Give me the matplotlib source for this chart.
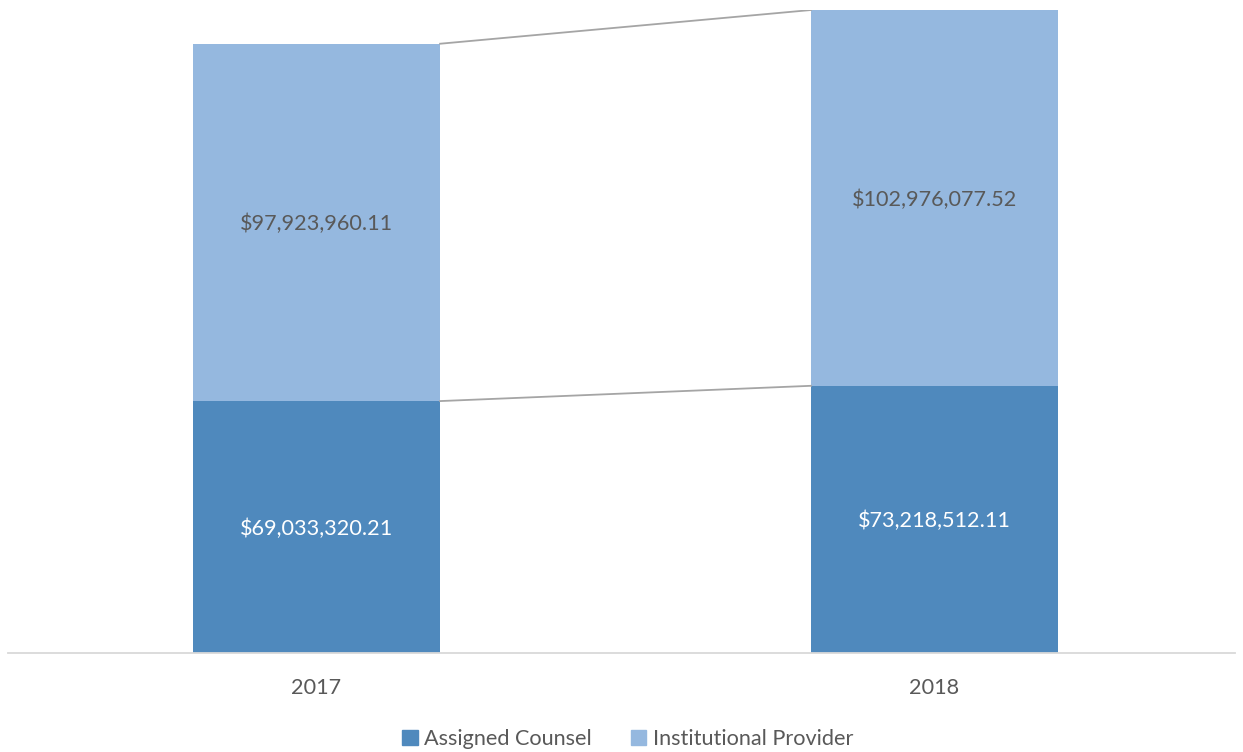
import matplotlib.pyplot as plt
from matplotlib.patches import Patch

years = ["2017", "2018"]
assigned = [69033320.21, 73218512.11]
institutional = [97923960.11, 102976077.52]

dark = "#4F89BD"
light = "#95B8DF"
txt = "#595959"

plt.rcParams["font.family"] = ["Lato", "DejaVu Sans"]

fig = plt.figure(figsize=(12.43, 7.52), dpi=100)
ax = fig.add_axes([8 / 1243, 1 - 653 / 752, 1227 / 1243, 643 / 752])

x = list(range(len(years)))
w = 0.4
ax.bar(x, assigned, width=w, color=dark)
ax.bar(x, institutional, width=w, bottom=assigned, color=light)

# series lines between the bars
tops = [a + b for a, b in zip(assigned, institutional)]
ax.plot([x[0] + w / 2, x[1] - w / 2], assigned, color="#A5A5A5", lw=1.3)
ax.plot([x[0] + w / 2, x[1] - w / 2], tops, color="#A5A5A5", lw=1.3)

for i in x:
    ax.text(i, assigned[i] / 2 - 0.5e6, f"${assigned[i]:,.2f}", ha="center", va="center",
            color="white", fontsize=15.6)
    ax.text(i, assigned[i] + institutional[i] / 2 - 0.5e6, f"${institutional[i]:,.2f}",
            ha="center", va="center", color=txt, fontsize=15.6)

ax.set_xlim(-0.4992, 1.4862)
ax.set_ylim(0, 176.2e6)
ax.set_xticks(x)
ax.set_xticklabels(years, fontsize=15.6, color=txt)
ax.tick_params(axis="x", length=0, pad=18)
ax.set_yticks([])
for s in ["top", "right", "left"]:
    ax.spines[s].set_visible(False)
ax.spines["bottom"].set_color("#D9D9D9")
ax.spines["bottom"].set_linewidth(1.3)

handles = [Patch(color=dark, label="Assigned Counsel"),
           Patch(color=light, label="Institutional Provider")]
fig.legend(handles=handles, loc="center", bbox_to_anchor=(0.505, 1 - 739 / 752),
           ncol=2, frameon=False, fontsize=15.6, labelcolor=txt,
           handlelength=0.7, handleheight=0.7, handletextpad=0.3, columnspacing=1.8)

fig.savefig("out.png", dpi=100)
